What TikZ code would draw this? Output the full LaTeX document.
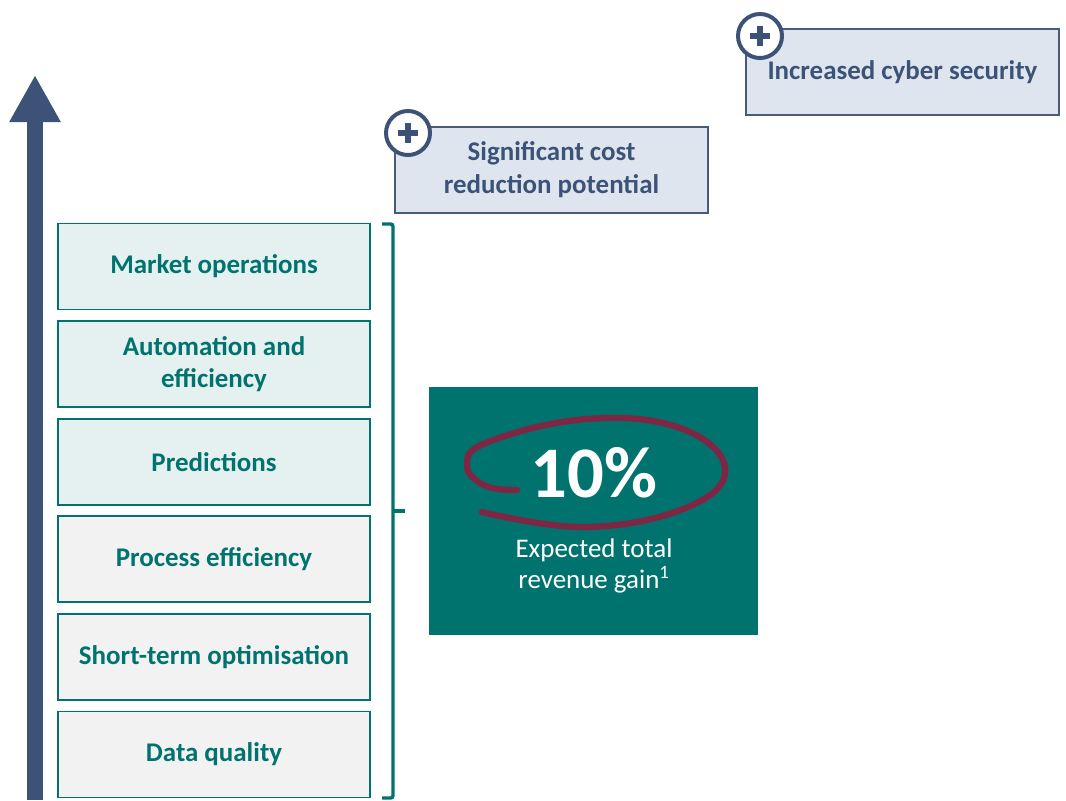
\documentclass[tikz,border=0pt]{standalone}
\usepackage{fontspec}
\setmainfont{Carlito}
\usetikzlibrary{arrows.meta}

\definecolor{tealmain}{HTML}{00736F}
\definecolor{tealtext}{HTML}{00736E}
\definecolor{tealfill}{HTML}{E4F1F0}
\definecolor{greyfill}{HTML}{F2F2F2}
\definecolor{navy}{HTML}{3C5377}
\definecolor{navyline}{HTML}{4A5B78}
\definecolor{bluefill}{HTML}{DFE5EF}
\definecolor{maroon}{HTML}{7E2744}

\tikzset{
  levelbox/.style={draw=tealmain, line width=1.6pt, minimum width=9.38cm, minimum height=2.58cm,
    align=center, text=tealtext, font=\fontsize{23}{28}\selectfont\bfseries},
  gainbox/.style={draw=navyline, line width=0.9pt, fill=bluefill, minimum width=9.39cm, minimum height=2.58cm,
    align=center, text=navy, font=\fontsize{23}{28}\selectfont\bfseries},
  plusmark/.style={circle, draw=navy, line width=3.4pt, fill=white, minimum size=1.32cm, inner sep=0pt},
  plusbar/.style={draw=navy, line width=5pt},
}

\begin{document}
\begin{tikzpicture}[x=0.03cm,y=-0.03cm]
  \useasboundingbox (0,0) rectangle (1066,800);

  % Drawing the rising arrow
  \coordinate (arrowbase) at (35,800);
  \coordinate (arrowtip) at (35,75);
  \draw [navy, line width=0.48cm, -{Triangle[width=1.44cm,length=1.41cm]}] (arrowbase) -- (arrowtip);

  % Drawing the six levels
  \foreach \name/\txt/\fillc [count=\i] in {
      market/{Market operations}/tealfill,
      automation/{Automation and\\efficiency}/tealfill,
      predictions/{Predictions}/tealfill,
      process/{Process efficiency}/greyfill,
      shortterm/{Short-term optimisation}/greyfill,
      dataquality/{Data quality}/greyfill}
    \node [levelbox, fill=\fillc] (\name) at (214,{266.5+(\i-1)*97.6}) {\txt};

  % Drawing the brace
  \coordinate (bracetop) at (382,224);
  \coordinate (bracebot) at (382,798);
  \coordinate (bracemid) at (393,511);
  \draw [tealmain, line width=2.9pt, rounded corners=2pt]
    (bracetop) -- (393,224) -- (393,798) -- (bracebot);
  \draw [tealmain, line width=2.9pt] (bracemid) -- (405,511);

  % Drawing the revenue box
  \node [fill=tealmain, minimum width=9.87cm, minimum height=7.44cm] (revenue) at (593.5,511) {};
  \node [text=white, font=\fontsize{62}{70}\selectfont\bfseries] (percent) at (594,473) {10\%};
  \node [text=white, align=center, font=\fontsize{23}{27}\selectfont] (expected) at (594,566)
    {Expected total\\revenue gain\textsuperscript{1}};

  % Drawing the hand-drawn ring
  \draw [maroon, line width=5.4pt, line cap=round]
    plot [smooth, tension=0.7] coordinates {(517,490) (486,486) (467,466) (488,442) (587,419)
      (680,428) (725,468) (688,507) (587,527) (482,512)};

  % Drawing the two gain boxes
  \node [gainbox] (cost) at (551.5,170) {Significant cost\\reduction potential};
  \node [gainbox] (cyber) at (902.5,72) {Increased cyber security};

  % Marking the plus signs
  \foreach \name/\x/\y in {costplus/408/133, cyberplus/760/36} {
    \node [plusmark] (\name) at (\x,\y) {};
    \draw [plusbar] ([xshift=-0.31cm]\name.center) -- ([xshift=0.31cm]\name.center);
    \draw [plusbar] ([yshift=-0.31cm]\name.center) -- ([yshift=0.31cm]\name.center);
  }
\end{tikzpicture}
\end{document}
